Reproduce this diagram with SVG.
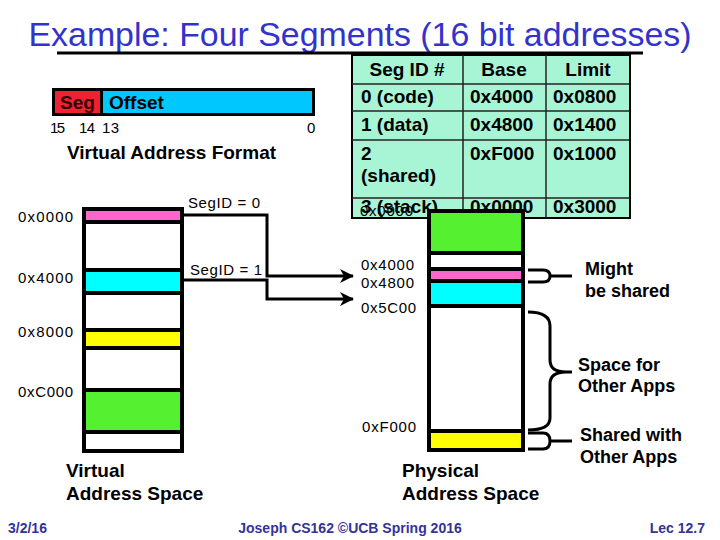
<svg xmlns="http://www.w3.org/2000/svg" width="720" height="540" viewBox="0 0 720 540">
<style>
text{font-family:"Liberation Sans",Arial,sans-serif;}
.b{font-weight:bold;}
.tb{font-weight:bold;font-size:19px;fill:#000;}
.sm{font-size:15px;fill:#000;}
.lbl{font-weight:bold;font-size:18px;fill:#000;}
.ft{font-weight:bold;font-size:14px;fill:#333399;}
.blk{stroke:#000;stroke-width:4;}
.ln{fill:none;stroke:#000;stroke-width:3;}
.tl{stroke:#222;stroke-width:1.5;}
</style>
<defs>
<marker id="ah" markerUnits="userSpaceOnUse" markerWidth="14" markerHeight="14" refX="13" refY="7" orient="auto">
<path d="M0,0 L14,7 L0,14 L4,7 z" fill="#000"/>
</marker>
</defs>
<rect width="720" height="540" fill="#fff"/>
<g id="title">
<text x="360" y="46" text-anchor="middle" font-size="33" fill="#3333CC" textLength="663" lengthAdjust="spacingAndGlyphs">Example: Four Segments (16 bit addresses)</text>
<line x1="57" y1="53" x2="643" y2="53" stroke="#000" stroke-width="3"/>
</g>
<g id="segtable">
<rect x="352" y="55" width="278" height="163" fill="#a8f5d5" stroke="#000" stroke-width="2"/>
<line class="tl" x1="463" y1="55" x2="463" y2="218"/>
<line class="tl" x1="546" y1="55" x2="546" y2="218"/>
<line class="tl" x1="352" y1="84" x2="630" y2="84"/>
<line class="tl" x1="352" y1="111" x2="630" y2="111"/>
<line class="tl" x1="352" y1="140" x2="630" y2="140"/>
<line class="tl" x1="352" y1="198" x2="630" y2="198"/>
<text class="tb" x="407" y="76" text-anchor="middle">Seg ID #</text>
<text class="tb" x="504" y="76" text-anchor="middle">Base</text>
<text class="tb" x="588" y="76" text-anchor="middle">Limit</text>
<text class="tb" x="361" y="103">0 (code)</text>
<text class="tb" x="470" y="103">0x4000</text>
<text class="tb" x="553" y="103">0x0800</text>
<text class="tb" x="361" y="131">1 (data)</text>
<text class="tb" x="470" y="131">0x4800</text>
<text class="tb" x="553" y="131">0x1400</text>
<text class="tb" x="361" y="160">2</text>
<text class="tb" x="361" y="182">(shared)</text>
<text class="tb" x="470" y="160">0xF000</text>
<text class="tb" x="553" y="160">0x1000</text>
<text class="tb" x="361" y="213">3 (stack)</text>
<text class="tb" x="470" y="213">0x0000</text>
<text class="tb" x="553" y="213">0x3000</text>
</g>
<g id="addrformat">
<rect x="53.5" y="89.5" width="260" height="25" fill="#000" stroke="#000" stroke-width="3"/>
<rect x="55" y="91" width="45" height="22" fill="#ee2233"/>
<rect x="103" y="91" width="209" height="22" fill="#00c8ff"/>
<text class="b" x="60" y="109" font-size="19" fill="#330000">Seg</text>
<text class="b" x="109" y="109" font-size="19" fill="#000">Offset</text>
<text class="sm" x="50" y="133" textLength="15">15</text>
<text class="sm" x="79" y="133" textLength="16">14</text>
<text class="sm" x="102" y="133" textLength="17">13</text>
<text class="sm" x="307" y="133">0</text>
<text class="b" x="67" y="159" font-size="19" fill="#000">Virtual Address Format</text>
</g>
<g id="virtual">
<rect class="blk" x="84" y="209" width="98" height="242" fill="#fff"/>
<rect class="blk" x="84" y="209" width="98" height="13" fill="#ff66cc"/>
<rect class="blk" x="84" y="270" width="98" height="23" fill="#00ffff"/>
<rect class="blk" x="84" y="330" width="98" height="18" fill="#ffff00"/>
<rect class="blk" x="84" y="390" width="98" height="42" fill="#55f030"/>
<text class="sm" x="18" y="222" textLength="55">0x0000</text>
<text class="sm" x="18" y="283" textLength="55">0x4000</text>
<text class="sm" x="18" y="337" textLength="55">0x8000</text>
<text class="sm" x="18" y="397" textLength="55">0xC000</text>
<text class="b" x="66" y="477" font-size="19" fill="#000">Virtual</text>
<text class="b" x="66" y="500" font-size="19" fill="#000">Address Space</text>
</g>
<g id="physical">
<rect class="blk" x="429" y="211" width="94" height="239" fill="#fff"/>
<rect class="blk" x="429" y="211" width="94" height="42" fill="#55f030"/>
<rect class="blk" x="429" y="269" width="94" height="12" fill="#ff66cc"/>
<rect class="blk" x="429" y="281" width="94" height="25" fill="#00ffff"/>
<rect class="blk" x="429" y="431" width="94" height="19" fill="#ffff00"/>
<text class="sm" x="360" y="216" textLength="53">0x0000</text>
<text class="sm" x="361" y="270" textLength="53">0x4000</text>
<text class="sm" x="361" y="288" textLength="53">0x4800</text>
<text class="sm" x="361" y="313" textLength="55">0x5C00</text>
<text class="sm" x="362" y="432" textLength="54">0xF000</text>
<text class="b" x="402" y="477" font-size="19" fill="#000">Physical</text>
<text class="b" x="402" y="500" font-size="19" fill="#000">Address Space</text>
</g>
<g id="connectors">
<path class="ln" d="M182,215 H267 V276 H353" marker-end="url(#ah)"/>
<path class="ln" d="M182,280 H267 V299 H353" marker-end="url(#ah)"/>
<text class="sm" x="188" y="208" textLength="72">SegID = 0</text>
<text class="sm" x="190" y="275" textLength="72">SegID = 1</text>
</g>
<g id="braces">
<path class="ln" d="M528,270 H543 Q550,270 550,276 Q550,282 543,282 H528 M550,276 H572"/>
<path class="ln" d="M528,312 Q550,312 550,326 V360 Q550,372 566,372 H572 M566,372 Q550,372 550,384 V418 Q550,430 528,430"/>
<path class="ln" d="M528,433 H543 Q550,433 550,441 Q550,449 543,449 H528 M550,441 H572"/>
<text class="lbl" x="585" y="275">Might</text>
<text class="lbl" x="585" y="297">be shared</text>
<text class="lbl" x="578" y="371">Space for</text>
<text class="lbl" x="578" y="392">Other Apps</text>
<text class="lbl" x="580" y="441">Shared with</text>
<text class="lbl" x="580" y="463">Other Apps</text>
</g>
<g id="footer">
<text class="ft" x="8" y="533">3/2/16</text>
<text class="ft" x="350" y="533" text-anchor="middle">Joseph CS162 ©UCB Spring 2016</text>
<text class="ft" x="705" y="533" text-anchor="end">Lec 12.7</text>
</g>
</svg>
